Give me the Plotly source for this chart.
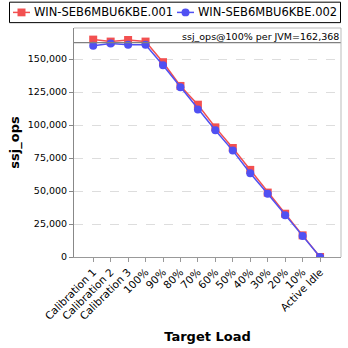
import plotly.graph_objects as go

categories = ["Calibration 1", "Calibration 2", "Calibration 3", "100%", "90%", "80%",
              "70%", "60%", "50%", "40%", "30%", "20%", "10%", "Active Idle"]
series_001 = [164700, 163200, 164400, 163200, 147600, 129600, 115400, 98200,
              82600, 66000, 48800, 32800, 16400, 0]
series_002 = [160000, 161800, 160800, 160800, 145300, 128700, 111800, 96100,
              80600, 63500, 48000, 31600, 16000, 0]
series_names = ["WIN-SEB6MBU6KBE.001", "WIN-SEB6MBU6KBE.002"]
series_colors = ["#f25050", "#5050f2"]
ref_value = 162368
y_ticks = [0, 25000, 50000, 75000, 100000, 125000, 150000]

W, H = 348, 348
ML, MR, MT, MB = 74, 7, 28, 85
PW, PH = W - ML - MR, H - MT - MB

def fx(px):
    return (px - ML) / PW

def fy(py):
    return (H - MB - py) / PH

idx = list(range(len(categories)))

fig = go.Figure()
fig.add_trace(go.Scatter(
    x=idx, y=series_001, name=series_names[0], mode="lines+markers",
    line=dict(color=series_colors[0], width=1.5),
    marker=dict(symbol="square", size=8, color=series_colors[0])))
fig.add_trace(go.Scatter(
    x=idx, y=series_002, name=series_names[1], mode="lines+markers",
    line=dict(color=series_colors[1], width=1.5),
    marker=dict(symbol="circle", size=8, color=series_colors[1])))

fig.add_shape(type="line", xref="paper", x0=0, x1=1, yref="y", y0=ref_value, y1=ref_value,
              line=dict(color="#808080", width=1.2))
fig.add_annotation(xref="paper", x=1, yref="y", y=ref_value, xanchor="right", yanchor="bottom",
                   text="ssj_ops@100% per JVM=162,368", showarrow=False,
                   font=dict(family="DejaVu Sans", size=9.5, color="#000"), yshift=-1)

# plot frame (top / right)
fig.add_shape(type="line", xref="paper", yref="paper", x0=1, x1=1, y0=0, y1=1,
              line=dict(color="#bbb", width=1))
fig.add_shape(type="line", xref="paper", yref="paper", x0=0, x1=1, y0=1, y1=1,
              line=dict(color="#bbb", width=1))

# legend drawn manually to keep a single row
fig.add_shape(type="rect", xref="paper", yref="paper",
              x0=fx(9.5), x1=fx(340.5), y0=fy(22.5), y1=fy(1.5),
              line=dict(color="#000", width=1), fillcolor="white")
ly = 12
for i, (name, col, x_start) in enumerate(zip(series_names, series_colors, [13, 177])):
    fig.add_shape(type="line", xref="paper", yref="paper",
                  x0=fx(x_start), x1=fx(x_start + 17), y0=fy(ly), y1=fy(ly),
                  line=dict(color=col, width=1.5))
    cx = x_start + 8.5
    fig.add_shape(type="rect" if i == 0 else "circle", xref="paper", yref="paper",
                  x0=fx(cx - 4), x1=fx(cx + 4), y0=fy(ly + 4), y1=fy(ly - 4),
                  line=dict(color=col, width=0), fillcolor=col)
    fig.add_annotation(xref="paper", yref="paper", x=fx(x_start + 19), y=fy(ly),
                       xanchor="left", yanchor="middle", text=name, showarrow=False,
                       font=dict(family="DejaVu Sans", size=11.5, color="#000"))

fig.update_layout(
    width=W, height=H,
    margin=dict(l=ML, r=MR, t=MT, b=MB),
    paper_bgcolor="white", plot_bgcolor="white",
    font=dict(family="DejaVu Sans", color="#000"),
    showlegend=False,
    xaxis=dict(
        range=[-1.1, 14.2], tickmode="array", tickvals=idx, ticktext=categories,
        tickangle=-45, tickfont=dict(size=10.5), showgrid=False, zeroline=False,
        showline=True, linecolor="#999", linewidth=1, mirror=False,
        ticks="outside", ticklen=4, tickcolor="#999",
        title=dict(text="<b>Target Load</b>", font=dict(size=13), standoff=10)),
    yaxis=dict(
        range=[0, 173500], tickmode="array", tickvals=y_ticks,
        ticktext=[f"{v:,}" for v in y_ticks], tickfont=dict(size=9.5),
        showgrid=True, gridcolor="#dddddd", griddash="dash", gridwidth=1,
        zeroline=False, showline=True, linecolor="#888", linewidth=1,
        ticks="outside", ticklen=4, tickcolor="#888",
        title=dict(text="<b>ssj_ops</b>", font=dict(size=13), standoff=5)),
)

fig.write_html("out.html")
